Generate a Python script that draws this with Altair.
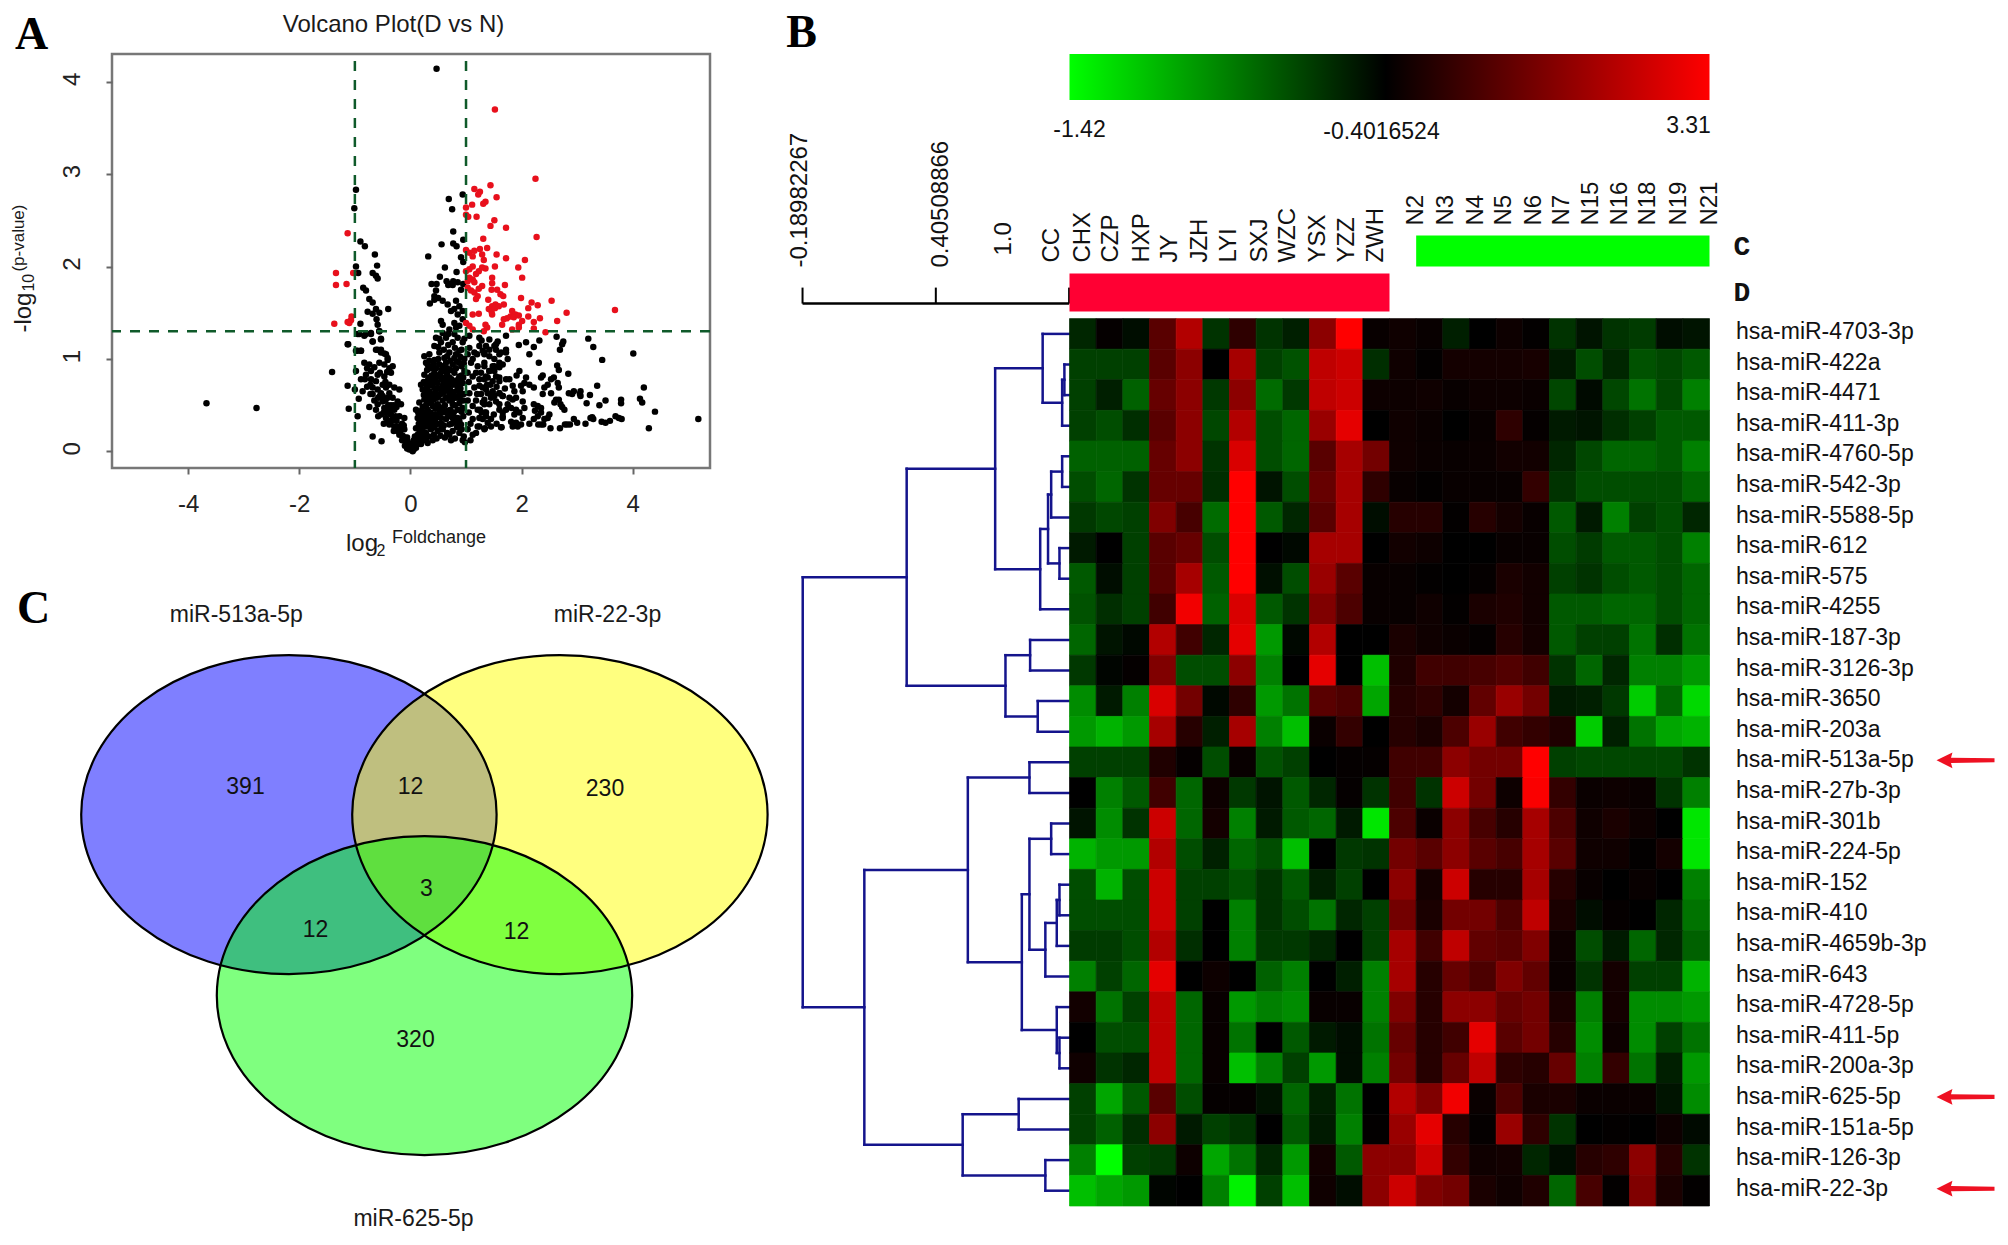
import altair as alt
import pandas as pd

FONT = "Liberation Sans"

# ---------- Panel A: volcano ----------
black_xy = [
(0.47,4.14),
(-0.98,2.83),(-1.01,2.63),(-0.90,2.27),(-0.82,2.22),(-0.64,2.13),(-0.60,2.01),(-0.98,2.0),(-0.94,1.93),(-0.68,1.93),(-0.62,1.90),(-0.59,1.87),
(-0.85,1.77),(-0.80,1.74),(-0.74,1.65),(-0.68,1.61),(-0.40,1.54),(-0.62,1.54),(-0.56,1.50),(-0.77,1.51),(-0.68,1.49),(-0.61,1.43),(-0.59,1.37),(-0.90,1.38),
(-0.56,1.30),(-0.92,1.27),(-0.80,1.27),(-0.71,1.28),(-0.68,1.19),(-0.53,1.22),(-1.13,1.16),(-0.98,1.09),(-0.89,1.09),(-0.62,1.10),(-0.53,1.10),(-0.47,1.06),(-0.41,1.01),
(0.94,2.78),(0.69,2.73),(0.75,2.62),(0.77,2.38),(0.95,2.29),(0.56,2.24),(0.77,2.25),(0.83,2.22),(0.32,2.11),(0.91,2.10),(0.95,2.05),(0.62,1.99),(0.83,1.94),(0.53,1.89),
(0.38,1.81),(0.47,1.81),(0.65,1.84),(0.71,1.81),(0.77,1.84),(0.68,1.80),(0.76,1.80),(0.85,1.83),(0.95,1.81),(0.91,1.75),(0.46,1.74),(0.43,1.68),(0.50,1.66),(0.58,1.63),(0.67,1.59),(0.35,1.60),(0.43,1.64),
(0.82,1.63),(0.88,1.57),(0.79,1.54),(0.73,1.52),(0.85,1.48),(0.94,1.52),(0.55,1.41),(0.58,1.37),(0.79,1.39),(0.82,1.34),(0.70,1.32),(0.88,1.36),(0.94,1.43),
(2.63,1.24),(3.20,1.22),(3.29,1.13),(2.75,1.19),(2.73,1.16),(2.69,1.10),(2.32,1.20),(2.08,1.18),(1.95,1.15),(2.22,1.13),(2.14,1.05),(4.01,1.06),(3.45,0.99),(2.31,0.96),(2.64,0.93),(2.67,0.88),(2.84,0.84),
(1.96,0.87),(1.91,0.82),(2.38,0.82),(2.35,0.80),(2.58,0.80),(2.53,0.78),(2.65,0.74),(2.47,0.72),(2.41,0.69),(2.67,0.69),(2.53,0.63),(2.38,0.62),(2.08,0.80),(2.05,0.74),(1.99,0.71),(2.14,0.72),(2.22,0.69),(1.84,0.71),(1.78,0.78),(1.87,0.65),(2.02,0.65),
(3.36,0.71),(4.20,0.69),(2.94,0.65),(2.85,0.63),(2.91,0.62),(3.06,0.65),(3.05,0.62),(3.06,0.60),(3.23,0.61),(2.62,0.56),(2.67,0.56),(2.59,0.53),(2.70,0.51),(2.77,0.45),(2.73,0.48),(3.51,0.55),(3.40,0.50),(3.17,0.52),(3.79,0.56),(3.79,0.52),(4.13,0.57),(4.17,0.53),(4.40,0.43),(5.18,0.35),(4.29,0.25),
(3.27,0.37),(3.24,0.36),(3.29,0.35),(3.75,0.36),(3.69,0.38),(3.80,0.35),(2.94,0.35),(3.0,0.31),(3.15,0.30),(2.82,0.29),(2.78,0.29),(2.87,0.29),(3.44,0.32),(3.51,0.31),(3.59,0.33),(2.69,0.25),(2.52,0.25),(2.35,0.29),(2.30,0.29),(2.39,0.29),(2.14,0.30),(2.47,0.36),(2.50,0.40),(2.41,0.35),
(2.22,0.51),(2.29,0.49),(2.35,0.47),(2.24,0.44),(2.35,0.42),(2.29,0.38),(2.22,0.35),(2.02,0.36),(1.99,0.29),(1.90,0.31),(1.84,0.27),(1.93,0.27),(1.81,0.32),(1.64,0.26),(1.66,0.42),(1.66,0.36),
(1.78,0.58),(1.84,0.56),(1.90,0.58),(2.02,0.54),(1.75,0.51),(1.81,0.47),(1.90,0.45),(1.96,0.42),(2.05,0.47),(1.87,0.40),(1.60,0.45),(1.60,0.51),(1.66,0.60),(1.60,0.63),(1.48,0.65),(1.39,0.63),(1.33,0.56),(1.33,0.51),(1.36,0.38),(1.39,0.31),(1.30,0.35),(1.51,0.60),(1.54,0.54),(1.45,0.58),(1.34,0.25),(1.24,0.27),
(1.57,1.19),(1.51,1.14),(1.54,1.10),(1.72,1.25),(1.36,1.14),(1.30,1.09),(1.33,1.05),(1.42,1.03),(1.60,1.05),(1.72,1.07),(1.75,1.0),(1.51,1.0),(1.60,0.96),(1.48,0.92),(1.66,0.94),(1.51,0.87),(1.42,0.87),(1.33,0.92),(1.27,0.85),(1.39,0.80),(1.54,0.81),(1.60,0.76),(1.33,0.78),(1.24,0.71),(1.30,0.69),
(-3.67,0.52),(-2.77,0.47),(-1.41,0.86),(-1.12,1.16),(-1.13,0.71),(-1.11,0.46),(-0.95,0.38),(-0.93,0.57),(-0.86,0.65),(-0.98,0.87),(-1.0,0.67),(-0.68,0.16),(-0.52,0.11),(-0.74,0.48),
(-0.95,1.27),(-0.83,1.25),(-0.71,1.27),(-0.56,1.30),(-0.68,1.19),(-0.53,1.21),(-0.95,1.09),(-0.89,1.09),(-0.59,1.10),(-0.53,1.07),(-0.44,1.05),(-0.41,0.99),(-0.83,0.96),(-0.74,0.94),(-0.65,0.91),(-0.56,0.96),(-0.47,0.94),(-0.38,0.90),(-0.71,0.87),(-0.80,0.83),(-0.89,0.78),(-0.71,0.78),(-0.59,0.83),(-0.47,0.81),(-0.32,0.92),(-0.35,0.85),
(-0.68,0.69),(-0.59,0.67),(-0.68,0.62),(-0.53,0.63),(-0.44,0.69),(-0.38,0.63),(-0.29,0.69),(-0.20,0.67),(-0.41,0.58),(-0.50,0.54),(-0.59,0.51),(-0.32,0.58),(-0.23,0.54),(-0.17,0.51),(-0.47,0.47),(-0.38,0.45),(-0.29,0.45),(-0.53,0.40),(-0.44,0.36),(-0.32,0.36),(-0.20,0.38),(-0.11,0.36),(-0.38,0.29),(-0.29,0.27),(-0.20,0.27),(-0.11,0.24),(-0.23,0.22),(-0.14,0.17),(-0.05,0.11),(-0.08,0.08),(-0.02,0.02),(0.07,0.06),(0.13,0.08),(0.04,0.0),
(0.19,0.08),(0.25,0.15),(0.22,0.22),(0.28,0.27),(0.19,0.31),(0.13,0.36),(0.10,0.45),(0.16,0.53),(0.25,0.38),(0.34,0.35),(0.43,0.40),(0.31,0.45),(0.40,0.49),(0.25,0.56),(0.34,0.58),(0.49,0.51),(0.58,0.47),(0.52,0.42),(0.46,0.29),(0.37,0.24),(0.31,0.09),(0.49,0.22),(0.64,0.35),(0.76,0.36),(0.70,0.29),(0.82,0.31),(0.91,0.29),(0.67,0.44),(0.76,0.51),(0.85,0.45),(0.94,0.47),(0.64,0.58),(0.73,0.60),(0.82,0.58),(0.91,0.62),(0.55,0.62),(0.46,0.63),(0.34,0.65),(0.22,0.67),(0.19,0.72),(0.28,0.74),(0.40,0.71),(0.49,0.74),(0.58,0.71),(0.67,0.67),(0.76,0.72),(0.85,0.71),(0.94,0.74),
(0.25,0.83),(0.34,0.80),(0.43,0.85),(0.52,0.81),(0.61,0.87),(0.70,0.80),(0.79,0.85),(0.88,0.81),(0.97,0.87),(0.25,1.03),(0.34,1.05),(0.43,0.99),(0.52,1.07),(0.61,1.01),(0.70,1.07),(0.79,1.01),(0.88,1.09),(0.43,1.14),(0.55,1.18),(0.64,1.23),(0.76,1.18),(0.85,1.23),(0.94,1.18),(0.31,0.94),(0.40,0.92),(0.52,0.94),(0.64,0.96),(0.76,0.94),(0.88,0.96),(0.46,1.23),(0.58,1.28),(0.79,1.27),
(0.15,0.30),(0.18,0.40),(0.22,0.48),(0.28,0.5),(0.35,0.55),(0.42,0.56),(0.48,0.58),(0.52,0.48),(0.58,0.55),(0.62,0.5),(0.7,0.55),(0.72,0.45),(0.78,0.42),(0.8,0.5),(0.88,0.52),(0.95,0.55),(0.3,0.6),(0.38,0.6),(0.44,0.68),(0.52,0.68),(0.6,0.64),(0.66,0.72),(0.72,0.66),(0.78,0.64),(0.84,0.66),(0.9,0.68),(0.3,0.7),(0.36,0.75),(0.42,0.78),(0.48,0.82),(0.56,0.78),(0.62,0.8),(0.68,0.76),(0.74,0.78),(0.8,0.76),(0.86,0.78),(0.92,0.82),(0.3,0.88),(0.36,0.9),(0.46,0.9),(0.56,0.88),(0.66,0.9),(0.72,0.88),(0.82,0.9),(0.92,0.92),(0.24,0.32),(0.3,0.32),(0.36,0.42),(0.44,0.33),(0.55,0.36),(0.6,0.28),(0.24,0.12),(0.12,0.13),(0.16,0.2),(0.1,0.25),(0.06,0.12),(0.02,0.08),(0.08,0.16),(0.28,0.2),(0.42,0.18),(0.54,0.17),(0.66,0.2),(0.76,0.22),(0.88,0.2),(0.96,0.16),(0.98,0.1),(0.94,0.12),(0.8,0.14),(0.58,0.24),(0.7,0.4),(0.85,0.36),(0.95,0.38),(0.92,0.43),
(1.06,1.12),(1.15,1.07),(1.24,1.14),(1.33,1.07),(1.42,1.10),(1.54,1.16),(1.63,1.07),(1.72,1.10),(1.09,0.96),(1.21,0.92),(1.33,0.96),(1.42,0.87),(1.51,0.92),(1.60,0.91),(1.12,0.81),(1.24,0.78),(1.36,0.81),(1.48,0.76),(1.60,0.80),(1.72,0.78),(1.06,0.63),(1.15,0.69),(1.27,0.62),(1.36,0.67),(1.48,0.63),(1.60,0.63),(1.66,0.60),(1.12,0.49),(1.21,0.45),(1.30,0.53),(1.42,0.51),(1.36,0.42),(1.45,0.35),(1.24,0.36),(1.12,0.35),(1.03,0.24),(1.12,0.18),(1.21,0.27),(1.33,0.24),(1.63,0.26),(1.72,0.45),(1.66,0.38),(1.06,1.25),(1.24,1.23),(1.42,1.21),
(-0.55,0.6),(-0.5,0.6),(-0.45,0.55),(-0.4,0.5),(-0.35,0.5),(-0.3,0.5),(-0.25,0.48),(-0.48,0.42),(-0.42,0.42),(-0.35,0.4),(-0.27,0.38),(-0.4,0.33),(-0.35,0.32),(-0.25,0.33),(-0.15,0.3),(-0.3,0.22),(-0.25,0.27),(-0.18,0.22),(-0.12,0.28),(-0.2,0.18),(-0.15,0.12),(-0.1,0.15),(-0.1,0.06),(-0.06,0.15),(-0.04,0.06),(-0.06,0.03),(0,0.05),(0.02,0.02),(0.06,0.02),(0.1,0.04),(0.09,0.1),(-0.5,0.72),(-0.45,0.75),(-0.38,0.72),(-0.55,0.85),(-0.42,0.86),(-0.62,0.76),(-0.58,0.58),(-0.62,0.45),(-0.58,0.38),(-0.48,0.3),
(0.13,0.18),(0.16,0.13),(0.18,0.26),(0.21,0.36),(0.2,0.16),(0.16,0.27),(0.14,0.42),(0.2,0.44),(0.27,0.42),(0.32,0.38),(0.4,0.36),(0.47,0.37),(0.33,0.27),(0.38,0.3),(0.43,0.26),(0.52,0.3),(0.56,0.3),(0.28,0.12),(0.33,0.16),(0.4,0.12),(0.47,0.14),(0.55,0.24),(0.62,0.15),(0.7,0.18),(0.73,0.12),(0.3,0.52),(0.38,0.52),(0.45,0.46),(0.56,0.42),(0.63,0.42),(0.68,0.38),(0.74,0.3),(0.79,0.36),(0.88,0.33),(0.92,0.24),(0.84,0.26),(0.24,0.61),(0.28,0.65),(0.42,0.62),(0.5,0.6),(0.56,0.66),(0.62,0.7),(0.7,0.62),(0.75,0.56),(0.86,0.6),(0.9,0.56),(0.96,0.62),(0.24,0.75),(0.32,0.78),(0.38,0.82),(0.46,0.76),(0.54,0.84),(0.6,0.76),(0.66,0.84),(0.72,0.72),(0.82,0.72),(0.88,0.74),(0.95,0.8),(0.34,0.98),(0.42,0.95),(0.5,1.0),(0.58,0.92),(0.66,1.03),(0.72,0.98),(0.82,1.05),(0.9,1.02),(0.97,1.0),(0.28,0.96),(0.5,1.13),(0.6,1.1),(0.68,1.15),(0.8,1.12),(0.92,1.1),(0.97,1.22),(0.68,1.27),(0.52,1.22),(0.96,0.95),(0.84,0.97),
(1.03,0.85),(1.05,0.75),(1.03,0.55),(1.05,0.42),(1.08,0.3),(1.18,0.55),(1.18,0.85),(1.03,1.05),(1.12,1.0),(1.2,1.05),(1.28,1.2),(1.38,0.72),(1.44,0.72),(1.55,0.7),(1.7,0.68),(1.25,0.45),(1.5,0.4),(1.55,0.3),(1.45,0.27),(1.08,0.12),(1.18,0.2),(1.28,0.42),(1.2,0.62),(1.34,0.42),
(-0.82,0.78),(-0.78,0.7),(-0.72,0.62),(-0.65,0.55),(-0.72,0.72),(-0.78,0.9),
]
red_xy = [
(1.52,3.70),(2.25,2.95),(1.44,2.88),(1.15,2.84),(1.25,2.81),(1.22,2.78),(1.55,2.75),(1.35,2.70),(1.31,2.68),(1.11,2.67),(1.0,2.64),(1.0,2.56),(1.04,2.54),(1.19,2.54),(1.51,2.50),(1.44,2.44),(1.72,2.42),(1.31,2.30),(2.27,2.32),(1.38,2.20),(1.25,2.19),(1.0,2.18),(1.15,2.17),(1.06,2.15),(1.29,2.13),(1.55,2.13),(1.12,2.11),(1.72,2.09),(2.06,2.07),(1.32,2.07),
(1.29,1.99),(1.52,2.0),(1.94,1.99),(1.12,2.0),(1.06,1.97),(1.0,1.95),(1.23,1.95),(1.18,1.92),(1.35,1.98),(1.47,1.88),(2.01,1.88),(1.06,1.88),(1.12,1.86),(1.03,1.84),(1.15,1.83),(1.47,1.82),(1.70,1.80),(1.29,1.79),(1.23,1.76),(1.03,1.77),(1.09,1.74),(1.15,1.72),(1.21,1.68),(1.18,1.65),(1.46,1.75),(1.56,1.75),(1.62,1.70),(1.67,1.68),(1.40,1.64),(1.99,1.66),(2.54,1.63),(2.18,1.61),(2.29,1.58),
(1.68,1.59),(1.53,1.59),(1.47,1.57),(1.41,1.54),(1.46,1.51),(1.52,1.55),(1.59,1.57),(1.47,1.48),(2.12,1.55),(3.68,1.53),(2.81,1.50),(1.12,1.48),(1.23,1.49),(1.83,1.52),(1.89,1.48),(1.80,1.46),(1.74,1.44),(1.68,1.43),(1.86,1.45),(1.95,1.47),(2.12,1.46),(2.33,1.44),(2.64,1.41),(2.22,1.40),(1.65,1.37),(2.01,1.41),(1.95,1.37),(1.0,1.39),(1.06,1.36),(1.12,1.32),(1.35,1.37),(1.38,1.34),(1.32,1.30),(1.83,1.32),(1.95,1.34),(2.22,1.33),(2.43,1.29),
(-1.13,2.36),(-1.34,1.93),(-1.03,1.93),(-1.34,1.80),(-1.15,1.81),(-1.37,1.38),(-1.13,1.40),(-1.07,1.42),(-1.06,1.46),(-1.10,1.39),
]
x_ticks = [-4, -2, 0, 2, 4]
y_ticks = [0, 1, 2, 3, 4]
fold_cut = [-1, 1]
p_cut = [1.3]

black_df = pd.DataFrame(black_xy, columns=["fc", "p"])
red_df = pd.DataFrame(red_xy, columns=["fc", "p"])

x_a = alt.X("fc:Q", scale=alt.Scale(domain=[-5.37, 5.39], nice=False, zero=False),
            axis=alt.Axis(values=x_ticks, grid=False, domain=False, title=None, tickSize=6, tickWidth=2,
                          tickColor="#666", labelFontSize=24, labelFont=FONT, labelPadding=18, labelColor="#222",
                          labelExpr="toString(datum.value)"))
y_a = alt.Y("p:Q", scale=alt.Scale(domain=[-0.18, 4.30], nice=False, zero=False),
            axis=alt.Axis(values=y_ticks, grid=False, domain=False, title=None, tickSize=6, tickWidth=2,
                          tickColor="#666", labelFontSize=24, labelFont=FONT, labelAngle=270, labelAlign="center",
                          labelBaseline="bottom", labelPadding=22, labelColor="#222", labelOffset=-3,
                          labelExpr="toString(datum.value)"))
dash = dict(color="#0f5a2a", strokeWidth=2.5, strokeDash=[10, 9])
vlines = alt.Chart(pd.DataFrame({"fc": fold_cut})).mark_rule(**dash).encode(x=alt.X("fc:Q"), y=alt.value(7), y2=alt.value(414))
hline = alt.Chart(pd.DataFrame({"p": p_cut})).mark_rule(**dash).encode(y=alt.Y("p:Q"))
dots_k = alt.Chart(black_df).mark_circle(color="black", size=42, opacity=1).encode(x=x_a, y=y_a)
dots_r = alt.Chart(red_df).mark_circle(color="#e8101c", size=42, opacity=1).encode(x=x_a, y=y_a)

def note(text, x, y, size, font=FONT, angle=0, align="center", bold=False, baseline="middle", color="#1a1a1a"):
    return alt.Chart(pd.DataFrame({"t": [text]})).mark_text(
        font=font, fontSize=size, angle=angle, align=align, baseline=baseline, color=color,
        fontWeight="bold" if bold else "normal").encode(text="t:N", x=alt.value(x), y=alt.value(y))

panel_a = alt.layer(
    dots_k, dots_r, vlines, hline,
    note("Volcano Plot(D vs N)", 281.5, -29, 24),
    note("A", -80.5, -19, 46, font="Liberation Serif", bold=True, color="black"),
    note("-log", -88.5, 278.6, 24, angle=270, align="left"),
    note("10", -83.5, 237.6, 16, angle=270, align="left"),
    note("(p-value)", -93.5, 217.6, 17, angle=270, align="left"),
    note("log", 234, 489.6, 24, align="left"),
    note("2", 264.5, 496.6, 16, align="left"),
    note("Foldchange", 280, 483.6, 18, align="left"),
).properties(width=598, height=414, view=alt.ViewConfig(stroke="#777", strokeWidth=2.5))

# ---------- Panel C: Venn ----------
venn_names = ["miR-513a-5p", "miR-22-3p", "miR-625-5p"]
venn_cx = [289.4, 560.4, 425.0]
venn_cy = [814.0, 814.0, 995.0]
venn_colors = ["#0000ff", "#ffff00", "#00ff00"]
venn_name_x = [236.8, 608.0, 414.0]
venn_name_y = [614.0, 614.0, 1218.0]
count_text = ["391", "12", "230", "3", "12", "12", "320"]
count_x = [246, 411, 605.5, 427, 316, 517, 416]
count_y = [786, 786, 788, 888, 929.5, 931, 1039]
ELLIPSE = "M-1,0A1,0.768,0,1,1,1,0A1,0.768,0,1,1,-1,0Z"
ELLIPSE_SIZE = 172557

vx = alt.Scale(domain=[112.5, 710.5], nice=False, zero=False)
vy = alt.Scale(domain=[1180, 640], nice=False, zero=False)
venn_df = pd.DataFrame({"name": venn_names, "cx": venn_cx, "cy": venn_cy, "col": venn_colors})
fills = [
    alt.Chart(venn_df.iloc[[i]]).mark_point(shape=ELLIPSE, size=ELLIPSE_SIZE, filled=True, fill=venn_colors[i],
                                            fillOpacity=0.5, opacity=1, strokeWidth=0).encode(
        x=alt.X("cx:Q", scale=vx, axis=None), y=alt.Y("cy:Q", scale=vy, axis=None))
    for i in range(3)
]
outlines = alt.Chart(venn_df).mark_point(shape=ELLIPSE, size=ELLIPSE_SIZE, filled=False, stroke="black", strokeWidth=2.2, opacity=1).encode(
    x=alt.X("cx:Q", scale=vx, axis=None), y=alt.Y("cy:Q", scale=vy, axis=None))
names = alt.Chart(pd.DataFrame({"t": venn_names, "x": venn_name_x, "y": venn_name_y})).mark_text(
    font=FONT, fontSize=23, color="#1a1a1a").encode(text="t:N", x=alt.X("x:Q", scale=vx, axis=None), y=alt.Y("y:Q", scale=vy, axis=None))
counts = alt.Chart(pd.DataFrame({"t": count_text, "x": count_x, "y": count_y})).mark_text(
    font=FONT, fontSize=23, color="#111").encode(text="t:N", x=alt.X("x:Q", scale=vx, axis=None), y=alt.Y("y:Q", scale=vy, axis=None))
panel_c = alt.layer(*fills, outlines, names, counts,
                    note("C", -78.5, -32, 46, font="Liberation Serif", bold=True, color="black")
                    ).properties(width=598, height=540, view=alt.ViewConfig(stroke=None))

# ---------- Panel B: heat map ----------
row_labels = ["hsa-miR-4703-3p","hsa-miR-422a","hsa-miR-4471","hsa-miR-411-3p","hsa-miR-4760-5p","hsa-miR-542-3p","hsa-miR-5588-5p",
 "hsa-miR-612","hsa-miR-575","hsa-miR-4255","hsa-miR-187-3p","hsa-miR-3126-3p","hsa-miR-3650","hsa-miR-203a","hsa-miR-513a-5p",
 "hsa-miR-27b-3p","hsa-miR-301b","hsa-miR-224-5p","hsa-miR-152","hsa-miR-410","hsa-miR-4659b-3p","hsa-miR-643","hsa-miR-4728-5p",
 "hsa-miR-411-5p","hsa-miR-200a-3p","hsa-miR-625-5p","hsa-miR-151a-5p","hsa-miR-126-3p","hsa-miR-22-3p"]
# intensity read from each cell: -10 full green, 0 black, +10 full red
heat_levels = [
[-1.5,0.2,-0.5,3.5,7,-2,1.8,-2,-1.2,5.5,10,0.3,0.6,0.3,-1.2,0,0.5,0.1,-2,-0.8,-2,-2.3,-0.5,-0.8],
[-2.5,-2.5,-2.5,3.5,5.5,0,6.5,-2.5,-3.2,7.5,8,-1.8,0.6,0.1,0.8,0.8,0.8,0.9,-1,-3,-1.5,-3.2,-2.8,-3.5],
[-2.5,-1.2,-3.8,4,5.5,-2.2,5.5,-4.2,-2.2,7.5,8,0.5,0.5,0.6,0.3,0.5,0.5,0.4,-2.8,-0.4,-2.8,-4.5,-2.8,-5],
[-2.5,-3,-1.8,3.5,5.5,-2.8,7,-3,-4,6,9,0,0.6,0.4,0,0.3,1.8,0.2,-1,-0.8,-1.8,-2.5,-3.5,-3.5],
[-3.8,-3.8,-3.8,4,5.5,-2,8.5,-3,-4,3.5,6.5,4.5,0.6,0.4,0.3,0.4,0.7,0.7,-1.5,-2.8,-4,-4,-3.5,-5],
[-3,-4,-2,4,4,-1.8,10,-0.8,-3,4,6.5,1.8,0.3,0.1,0.3,0.3,0.3,2,-2,-3,-3,-3,-3,-4],
[-2.2,-2.8,-2.5,5,2.8,-4.2,10,-3.5,-1.5,3.5,6.5,-0.5,1.5,1.5,0.1,1.5,0.8,0.3,-3.5,-1,-5,-2.5,-3,-1.5],
[-1,0,-2.5,3.5,4,-3,10,0,-0.3,6.5,6.5,0,0.7,0.5,0,0,0.3,0.3,-3,-2.3,-3.5,-3.5,-3,-5],
[-3.5,-0.5,-2.5,3.5,6.5,-3.5,10,-0.6,-3,6,3.5,0.3,0.3,0.1,0,0.2,1,0.7,-2.5,-2,-3,-3.5,-3,-4],
[-3.2,-1.8,-2.5,2.5,9.5,-3.8,8.5,-3.5,-2,5,3,0.3,0.3,0.6,0.1,1,1.2,0.7,-3.5,-3.5,-4,-4,-3,-4],
[-4,-0.8,-0.3,7,2.5,-1.5,9,-6,-0.3,7,0,0,1,0.6,0.4,0.2,1.5,0.8,-3.5,-2.5,-2.5,-4.5,-1.8,-4.5],
[-2.2,-0.2,0.2,5,-3,-3,5.5,-5,0,9,0,-7.5,1.2,2.5,2.5,2.8,3.2,2.5,-2,-4,-1.5,-5,-5,-6],
[-5.5,-1,-5,8.5,4.5,-0.3,1.8,-6,-4.5,3.5,3,-6.5,1.5,1.8,0.8,3.8,6,4.5,-1,-1.2,-2.2,-8,-4,-8.5],
[-6,-7,-6,6.5,1.5,-1.2,6.5,-5,-7.5,0.4,2,0,1.5,1,3,6,2.5,2,1.2,-8,-1.2,-4.5,-6.5,-7],
[-2.5,-2.5,-2.5,1.2,0.2,-3,0.3,-3.2,-2.5,0,0.2,0.2,2.5,2.5,5.5,4.5,4.5,10,-2.5,-2.8,-2.8,-2.8,-2.8,-2],
[0,-5,-3.5,2.5,-4,0.5,-2.2,-0.8,-3.5,-1.5,0.2,-2,2.5,-2,8,4.5,0.5,9.8,2,0.4,0.5,0.4,-2,-5],
[-0.8,-5.5,-2,8,-4,0.8,-5,-1,-3.5,-4,-1,-9,3,0.4,5.5,2.8,1.5,6.5,3,0.6,1,0.5,0,-9],
[-7,-6,-6,7,-3,-1.3,-4,-3,-7.5,0,-2.2,-2,4.5,3.5,5.5,3.5,2.8,6.5,3.5,0.6,0.6,0.1,0.8,-9],
[-3,-7,-3,8,-2.5,-2.5,-3.2,-2,-3.5,-1.2,-2.5,0,5.5,0.8,8,1.5,1.5,6.5,1.5,0.3,0,0.3,0,-5],
[-3,-3,-3,8,-2.5,0,-5,-2,-3,-4.5,-1.5,-2.5,4.5,1,4.5,4.5,3,7.5,1,-0.5,0.2,0,-1.5,-4.5],
[-2.3,-2.3,-3,7,-1.8,0,-5,-2.2,-2.2,-1.5,0,-2.5,6.5,2.5,7.5,3.8,3.5,5,0.5,-3,-1,-4,-1.5,-3.8],
[-5,-2.5,-4,9,0,0.5,0,-3.8,-5,0,-1.2,-5,6.5,1.5,4,3,5,3.8,0.4,-2,0.8,-2.5,-2.5,-7],
[0.7,-4.5,-2.5,7.5,-4,0.3,-6,-5,-5.5,0.3,0.3,-5,5,1.5,5.5,5.5,4,4.5,1,-5,0.8,-5.5,-5.5,-6],
[0,-3,-3,7.5,-4,0.3,-4.5,0,-3.5,-1,-0.5,-4.5,4,1.5,2.5,9,3.5,4.5,1.5,-5.5,0.5,-5.5,-2.5,-4.5],
[0.6,-2,-1.5,7.5,-4,0.3,-7.5,-5,-2.5,-6,-0.5,-5,4.5,1.5,4,7.5,1.8,1.5,4,-5,2,-4.5,-1.2,-6],
[-2.5,-6.5,-3.5,3.5,-3,0.2,0.2,-0.7,-4,-1.2,-4.5,0,7,5,9.5,0.4,3,1,1,0.4,0.4,0.4,-0.8,-5.5],
[-2.5,-3.8,-1.8,5.5,-1,-2.5,-2,0,-3.5,-1,-5,0.1,6,9,1.5,0.2,6,1.8,-2,0,0.1,0,0.5,-0.4],
[-5,-10,-2.5,-2.2,0.5,-6.5,-4.5,-1.5,-6,0.7,-3.5,5.5,5.5,8,2,0.6,0.7,-1.5,-0.5,1.5,1.8,5.5,1.5,-2],
[-7.5,-6.5,-6,-0.2,0,-5,-9.5,-2.5,-7.5,0.6,-0.5,5.5,8,5,4.5,1,0.6,1.2,-4,2.8,0.1,5,1,0.1],
]
C_LOW, C_MID, C_HIGH = -1.42, -0.4016524, 3.31

def expr_value(level):
    return C_MID + level / 10 * ((C_HIGH - C_MID) if level > 0 else (C_MID - C_LOW))

heat_rows = [
    {"row": row_labels[r], "col": c, "v": expr_value(level)}
    for r, levels in enumerate(heat_levels) for c, level in enumerate(levels)
]
heat_color = alt.Scale(domain=[C_LOW, C_MID, C_HIGH], range=["#00ff00", "#000000", "#ff0000"], interpolate="rgb")
y_heat = alt.Y("row:N", sort=row_labels, scale=alt.Scale(domain=row_labels, paddingInner=0, paddingOuter=0),
               axis=alt.Axis(orient="right", title=None, ticks=False, domain=False, labelFontSize=23, labelFont=FONT,
                             labelPadding=26, labelColor="#111", labelLimit=400, labelOffset=-2))
heat = alt.Chart(pd.DataFrame(heat_rows)).mark_rect(strokeWidth=0.7).encode(
    x=alt.X("col:O", axis=None, scale=alt.Scale(paddingInner=0, paddingOuter=0)),
    y=y_heat,
    color=alt.Color("v:Q", scale=heat_color, legend=None),
    stroke=alt.Stroke("v:Q", scale=heat_color, legend=None),
)
arrow_rows = ["hsa-miR-513a-5p", "hsa-miR-625-5p", "hsa-miR-22-3p"]
ARROW = "M-1,0L-0.45,-0.27L-0.5,-0.09L1,-0.07L1,0.07L-0.5,0.09L-0.45,0.27Z"
arrows = alt.Chart(pd.DataFrame({"row": arrow_rows})).mark_point(shape=ARROW, size=3364, filled=True, color="#ee1122", opacity=1, yOffset=-2).encode(
    y=alt.Y("row:N", sort=row_labels), x=alt.value(896))
panel_heat = alt.layer(heat, arrows).properties(width=640, height=887.4, view=alt.ViewConfig(stroke=None))

# ---------- dendrogram (leaves are rows 0-28, internal nodes are 100+index) ----------
merge_a = [1,100,0,4,103,7,104,106,102,10,12,109,108,14,16,18,115,116,114,23,22,118,113,25,27,123,122,112]
merge_b = [2,3,101,5,6,8,105,9,107,11,13,110,111,15,17,19,20,21,117,24,119,120,121,26,28,124,125,126]
merge_r = [0.979,0.969,0.882,0.969,0.920,0.957,0.906,0.871,0.670,0.826,0.860,0.716,0.275,0.823,0.920,0.957,0.945,0.894,0.823,0.957,0.945,0.789,0.548,0.775,0.894,0.525,0.086,-0.189]

node = {i: (1.0, i + 0.5) for i in range(len(row_labels))}
segs = []
for k, (a, b, r) in enumerate(zip(merge_a, merge_b, merge_r)):
    ra, ya = node[a]
    rb, yb = node[b]
    segs += [{"r": r, "r2": ra, "y": ya, "y2": ya}, {"r": r, "r2": rb, "y": yb, "y2": yb}, {"r": r, "r2": r, "y": ya, "y2": yb}]
    node[100 + k] = (r, (ya + yb) / 2)
r_scale = alt.Scale(domain=[-0.19, 1.0], nice=False, zero=False)
dendro = alt.Chart(pd.DataFrame(segs)).mark_rule(color="#14148c", strokeWidth=2.5, strokeCap="square").encode(
    x=alt.X("r:Q", scale=r_scale, axis=None), x2="r2:Q",
    y=alt.Y("y:Q", scale=alt.Scale(domain=[29, 0], nice=False, zero=False), axis=None), y2="y2:Q",
).properties(width=266.6, height=887.4, view=alt.ViewConfig(stroke=None))

# ---------- correlation scale above the dendrogram ----------
scale_ticks = [-0.18982267, 0.40508866, 1.0]
scale_text = ["-0.18982267", "0.40508866", "1.0"]
scale_text_pos = [-0.2, 0.43, 0.71]
scale_text_y = [213.6, 213.6, 201.6]
tick_df = pd.DataFrame({"r": scale_ticks})
base_r = alt.X("r:Q", scale=r_scale, axis=None)
scale_rules = alt.Chart(tick_df).mark_rule(color="black", strokeWidth=2).encode(x=base_r, y=alt.value(233.6), y2=alt.value(249.6))
scale_bar = alt.Chart(pd.DataFrame({"r": [scale_ticks[0]], "r2": [scale_ticks[-1]]})).mark_rule(color="black", strokeWidth=2.5).encode(
    x=base_r, x2="r2:Q", y=alt.value(249.6))
scale_labels = [
    alt.Chart(pd.DataFrame({"r": [scale_text_pos[i]], "t": [scale_text[i]]})).mark_text(
        font=FONT, fontSize=24, angle=270, align="left", baseline="middle", color="#111").encode(x=base_r, y=alt.value(scale_text_y[i]), text="t:N")
    for i in range(3)
]
panel_scale = alt.layer(scale_rules, scale_bar, *scale_labels,
                        note("B", -1, -21, 46, font="Liberation Serif", bold=True, color="black")
                        ).properties(width=266.6, height=264.6, view=alt.ViewConfig(stroke=None))

# ---------- colour bar, column labels, class bars ----------
group_d = ["CC","CHX","CZP","HXP","JY","JZH","LYI","SXJ","WZC","YSX","YZZ","ZWH"]
group_d_pos = [-0.64,0.5,1.57,2.72,3.78,4.88,5.98,7.14,8.2,9.3,10.4,11.5]
group_n = ["N2","N3","N4","N5","N6","N7","N15","N16","N18","N19","N21"]
group_n_pos = [13.0,14.1,15.25,16.3,17.4,18.45,19.55,20.65,21.7,22.85,24.0]
cell_x = alt.Scale(domain=[0, 24], nice=False, zero=False)
bar_c = alt.Chart(pd.DataFrame({"a": [13], "b": [24]})).mark_rect(color="#00ff00").encode(
    x=alt.X("a:Q", scale=cell_x, axis=None), x2="b:Q", y=alt.value(181.6), y2=alt.value(212.6))
bar_d = alt.Chart(pd.DataFrame({"a": [0], "b": [12]})).mark_rect(color="#ff0033").encode(
    x=alt.X("a:Q", scale=cell_x, axis=None), x2="b:Q", y=alt.value(219.6), y2=alt.value(257.6))
col_d = alt.Chart(pd.DataFrame({"p": group_d_pos, "t": group_d})).mark_text(font=FONT, fontSize=24, angle=270, align="left", baseline="middle", color="#111").encode(
    x=alt.X("p:Q", scale=cell_x, axis=None), y=alt.value(208.6), text="t:N")
col_n = alt.Chart(pd.DataFrame({"p": group_n_pos, "t": group_n})).mark_text(font=FONT, fontSize=24, angle=270, align="left", baseline="middle", color="#111").encode(
    x=alt.X("p:Q", scale=cell_x, axis=None), y=alt.value(171.6), text="t:N")

bar_scale = alt.Scale(domain=[C_LOW, C_MID, C_HIGH], range=[0, 316, 640], nice=False, zero=False)
ramp = alt.Gradient(gradient="linear", x1=0, x2=1, y1=0, y2=0, stops=[
    alt.GradientStop(offset=0, color="#00ff00"), alt.GradientStop(offset=0.494, color="#000000"), alt.GradientStop(offset=1, color="#ff0000")])
ramp_rect = alt.Chart(pd.DataFrame({"a": [C_LOW], "b": [C_HIGH]})).mark_rect(fill=ramp).encode(
    x=alt.X("a:Q", scale=bar_scale, axis=None), x2="b:Q", y=alt.value(0), y2=alt.value(46))
ramp_text = [
    alt.Chart(pd.DataFrame({"v": [v], "t": [t]})).mark_text(font=FONT, fontSize=23, color="#111", dx=dx).encode(
        x=alt.X("v:Q", scale=bar_scale, axis=None), y=alt.value(y), text="t:N")
    for v, t, dx, y in [(C_LOW, "-1.42", 10, 75.6), (C_MID, "-0.4016524", -4, 77.6), (C_HIGH, "3.31", -21, 71.6)]
]
panel_head = alt.layer(
    alt.layer(bar_c, bar_d, col_d, col_n,
              note("C", 672.4, 192.6, 28, font="Liberation Mono", bold=True, color="#111"),
              note("D", 672.4, 238.6, 28, font="Liberation Mono", bold=True, color="#111")),
    alt.layer(ramp_rect, *ramp_text),
).resolve_scale(x="independent").properties(width=640, height=264.6, view=alt.ViewConfig(stroke=None))

top_row = alt.hconcat(panel_scale, panel_head, spacing=0, bounds="flush")
low_row = alt.hconcat(dendro, panel_heat, spacing=0, bounds="flush")
right = alt.vconcat(top_row, low_row, spacing=264.6, bounds="flush")
left = alt.vconcat(panel_a, panel_c, spacing=172.6, bounds="flush")
chart = alt.hconcat(left, right, spacing=690.5, bounds="flush").properties(
    padding={"left": 0, "top": 2, "right": 0, "bottom": 0}, background="white"
).configure_view(stroke=None)

chart.save("out.html", embed_options={"renderer": "svg", "actions": False})
